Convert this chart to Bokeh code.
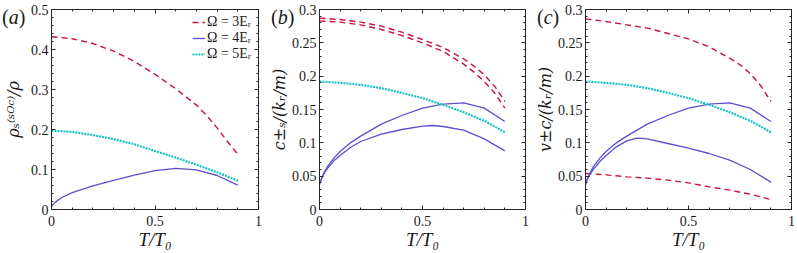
from bokeh.plotting import figure
from bokeh.layouts import row
from bokeh.models import (FixedTicker, LinearAxis, Div, CustomJSTickFormatter, Range1d,
                          CustomLabelingPolicy)
from bokeh.embed import file_html
from bokeh.resources import INLINE

# ---------------- data ----------------
X_TICKS = [0, 0.5, 1]
X_MINOR = [0.1, 0.2, 0.3, 0.4, 0.6, 0.7, 0.8, 0.9]
YA_TICKS = [0, 0.1, 0.2, 0.3, 0.4, 0.5]
YA_MINOR = [round(0.02 * i, 2) for i in range(26) if i % 5]
YBC_TICKS = [0, 0.05, 0.1, 0.15, 0.2, 0.25, 0.3]
YBC_MINOR = [round(0.01 * i, 2) for i in range(31) if i % 5]

LEGEND = ["Ω = 3Eᵣ", "Ω = 4Eᵣ", "Ω = 5Eᵣ"]
LETTERS = ["a", "b", "c"]

# panel (a): superfluid density
T_A_RED = [0, 0.1, 0.2, 0.3, 0.4, 0.5, 0.6, 0.7, 0.75, 0.8, 0.85, 0.9]
A_RED = [0.432, 0.427, 0.415, 0.396, 0.370, 0.338, 0.302, 0.261, 0.235, 0.204, 0.170, 0.138]
T_A_BLUE = [0, 0.02, 0.05, 0.1, 0.2, 0.3, 0.4, 0.5, 0.6, 0.7, 0.8, 0.9]
A_BLUE = [0.008, 0.019, 0.030, 0.042, 0.059, 0.073, 0.086, 0.097, 0.103, 0.099, 0.085, 0.061]
T_A_CYAN = [0, 0.1, 0.2, 0.3, 0.4, 0.5, 0.6, 0.7, 0.8, 0.9]
A_CYAN = [0.197, 0.194, 0.186, 0.176, 0.163, 0.146, 0.130, 0.112, 0.093, 0.072]

# panel (b): sound speeds
T_RED = [0, 0.1, 0.2, 0.3, 0.4, 0.5, 0.6, 0.7, 0.75, 0.8, 0.85, 0.9]
B_RED_UP = [0.287, 0.285, 0.281, 0.275, 0.266, 0.255, 0.243, 0.226, 0.215, 0.202, 0.185, 0.162]
B_RED_LO = [0.283, 0.281, 0.277, 0.270, 0.261, 0.250, 0.237, 0.218, 0.206, 0.192, 0.175, 0.152]
T_CYAN = [0, 0.1, 0.2, 0.3, 0.4, 0.5, 0.6, 0.7, 0.8, 0.9]
BC_CYAN = [0.192, 0.190, 0.187, 0.182, 0.175, 0.167, 0.157, 0.146, 0.133, 0.116]
T_BLUE_UP = [0, 0.01, 0.02, 0.04, 0.07, 0.1, 0.15, 0.2, 0.3, 0.4, 0.5, 0.6, 0.7, 0.8, 0.9]
BC_BLUE_UP = [0.038, 0.047, 0.054, 0.065, 0.077, 0.087, 0.100, 0.110, 0.128, 0.141, 0.152, 0.158, 0.160, 0.152, 0.132]
T_B_BLUE_LO = [0, 0.01, 0.02, 0.04, 0.07, 0.1, 0.15, 0.2, 0.3, 0.4, 0.5, 0.55, 0.6, 0.7, 0.8, 0.9]
B_BLUE_LO = [0.038, 0.046, 0.053, 0.062, 0.073, 0.081, 0.093, 0.102, 0.113, 0.120, 0.125, 0.126, 0.1245, 0.119, 0.106, 0.088]

# panel (c): critical velocities
C_RED_UP = [0.286, 0.282, 0.277, 0.272, 0.264, 0.256, 0.244, 0.227, 0.217, 0.204, 0.186, 0.162]
T_C_RED_LO = [0, 0.1, 0.2, 0.3, 0.4, 0.5, 0.6, 0.7, 0.8, 0.9]
C_RED_LO = [0.054, 0.052, 0.049, 0.047, 0.044, 0.040, 0.034, 0.029, 0.023, 0.015]
T_C_BLUE_LO = [0, 0.01, 0.02, 0.04, 0.07, 0.1, 0.15, 0.2, 0.25, 0.3, 0.4, 0.5, 0.6, 0.7, 0.8, 0.9]
C_BLUE_LO = [0.038, 0.046, 0.052, 0.061, 0.072, 0.081, 0.094, 0.103, 0.107, 0.106, 0.099, 0.092, 0.084, 0.074, 0.060, 0.041]

# ---------------- style ----------------
FONT = "Liberation Serif"
YFONT = "DejaVu Serif"
AX = "#262626"
TXT = "#1a1a1a"
RED = "#c8143c"
BLUE = "#5a4fcf"
CYAN = "#17c3c6"
H = 253
TOP = 9
BOTTOM = 44

RED_KW = dict(line_color=RED, line_width=1.4, line_dash="6 4")
BLUE_KW = dict(line_color=BLUE, line_width=1.3)
CYAN_KW = dict(line_color=CYAN, line_width=2.2, line_dash="2 1")

NO_LABELS = "for (const i of indices) { indices.unset(i) }\nreturn indices"


def style_axis(ax):
    ax.axis_line_color = AX
    ax.major_tick_line_color = AX
    ax.minor_tick_line_color = AX
    ax.major_tick_in = 4
    ax.major_tick_out = 0
    ax.minor_tick_in = 2
    ax.minor_tick_out = 0


def panel(width, bl, br, ymax, yt, ym, ylabel, ylabel_standoff):
    p = figure(width=width, height=H, x_range=Range1d(0, 1), y_range=Range1d(0, ymax),
               output_backend="svg", toolbar_location=None,
               min_border_left=bl, min_border_right=br, min_border_top=TOP,
               min_border_bottom=BOTTOM)
    p.xgrid.visible = False
    p.ygrid.visible = False
    p.outline_line_color = AX
    p.outline_line_width = 1
    fmt = CustomJSTickFormatter(code="return String(parseFloat(tick.toFixed(3)));")
    xa = p.xaxis[0]
    ya = p.yaxis[0]
    xa.ticker = FixedTicker(ticks=X_TICKS, minor_ticks=X_MINOR)
    ya.ticker = FixedTicker(ticks=yt, minor_ticks=ym)
    for ax in (xa, ya):
        ax.formatter = fmt
        style_axis(ax)
        ax.major_label_text_font = FONT
        ax.major_label_text_font_size = "14px"
        ax.major_label_text_color = TXT
        ax.axis_label_text_font_style = "italic"
        ax.axis_label_text_color = TXT
    xa.axis_label_text_font = FONT
    xa.axis_label_text_font_size = "19px"
    ya.axis_label_text_font = YFONT
    ya.axis_label_text_font_size = "16px"
    xa.major_label_standoff = 6
    xa.axis_label_standoff = 0
    ya.major_label_standoff = 3
    ya.axis_label_standoff = ylabel_standoff
    xa.axis_label = "T/T₀"
    ya.axis_label = ylabel
    mirror = dict(major_label_text_font_size="0px", major_label_standoff=0,
                  major_label_policy=CustomLabelingPolicy(code=NO_LABELS))
    top = LinearAxis(ticker=FixedTicker(ticks=X_TICKS, minor_ticks=X_MINOR), **mirror)
    right = LinearAxis(ticker=FixedTicker(ticks=yt, minor_ticks=ym), **mirror)
    style_axis(top)
    style_axis(right)
    p.add_layout(top, "above")
    p.add_layout(right, "right")
    return p


pa = panel(266, 49, 8, 0.5, YA_TICKS, YA_MINOR, "ρₛ⁽ˢᴼᶜ⁾/ρ", 5)
pa.line(T_A_RED, A_RED, legend_label=LEGEND[0], **RED_KW)
pa.line(T_A_BLUE, A_BLUE, legend_label=LEGEND[1], **BLUE_KW)
pa.line(T_A_CYAN, A_CYAN, legend_label=LEGEND[2], **CYAN_KW)
lg = pa.legend[0]
lg.location = (141, 147)
lg.background_fill_alpha = 0
lg.border_line_alpha = 0
lg.label_text_font = FONT
lg.label_text_font_size = "14px"
lg.label_text_color = TXT
lg.glyph_width = 13
lg.glyph_height = 16
lg.label_height = 16
lg.label_standoff = 2
lg.spacing = 0
lg.padding = 0
lg.margin = 0

pb = panel(266, 50, 7, 0.3, YBC_TICKS, YBC_MINOR, "c±ₛ/(kᵣ/m)", 0)
pb.line(T_RED, B_RED_UP, **RED_KW)
pb.line(T_RED, B_RED_LO, **RED_KW)
pb.line(T_BLUE_UP, BC_BLUE_UP, **BLUE_KW)
pb.line(T_B_BLUE_LO, B_BLUE_LO, **BLUE_KW)
pb.line(T_CYAN, BC_CYAN, **CYAN_KW)

pc = panel(265, 50, 6, 0.3, YBC_TICKS, YBC_MINOR, "v±c/(kᵣ/m)", 0)
pc.line(T_RED, C_RED_UP, **RED_KW)
pc.line(T_C_RED_LO, C_RED_LO, **RED_KW)
pc.line(T_BLUE_UP, BC_BLUE_UP, **BLUE_KW)
pc.line(T_C_BLUE_LO, C_BLUE_LO, **BLUE_KW)
pc.line(T_CYAN, BC_CYAN, **CYAN_KW)

# panel letters: html overlays placed over the top-left corner of each panel
letter_left = [2, 271, 537]
letters = [
    Div(text=f"(<i>{ch}</i>)",
        styles={"position": "absolute", "left": f"{x}px", "top": "6px",
                "font-family": FONT, "font-size": "20px", "color": TXT,
                "line-height": "normal", "z-index": "10", "margin": "0",
                "padding": "0", "white-space": "nowrap"})
    for ch, x in zip(LETTERS, letter_left)
]

layout = row(pa, pb, pc, *letters, spacing=0)
open("out.html", "w").write(file_html(layout, INLINE))
